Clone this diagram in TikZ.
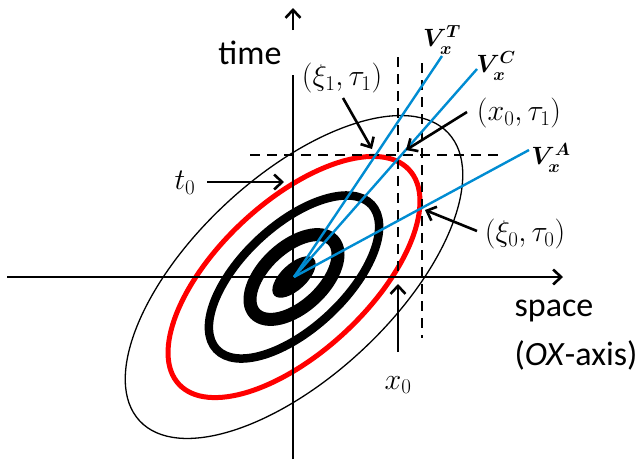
\RequirePackage{fix-cm}
\documentclass[tikz,border=0pt]{standalone}
\usepackage{amsmath}
\usepackage{fontspec}
\setmainfont{Carlito}
\usetikzlibrary{arrows.meta}
\definecolor{velocity}{RGB}{0,140,210}
\definecolor{front}{RGB}{255,0,0}
\tikzset{axis/.style={line width=2.6pt},
 guide/.style={line width=2.4pt,dash pattern=on 10pt off 7pt},
 pointer/.style={line width=2.6pt,-{Straight Barb[length=8pt,width=15pt]}},
 ray/.style={draw=velocity,line width=2.4pt},
 lab/.style={font=\fontsize{34}{40}\selectfont,inner sep=0pt},
 mlab/.style={font=\fontsize{30}{36}\selectfont,inner sep=0pt},
 vlab/.style={font=\fontsize{25}{30}\selectfont,inner sep=0pt},
 every picture/.style={line join=round}}

\begin{document}
\begin{tikzpicture}[x=1pt,y=-1pt]
\useasboundingbox (0,0) rectangle (639,459);
\coordinate (c) at (294,277);
% level sets of the packet
\draw[line width=1.3pt,rotate around={43:(c)}] (c) ellipse (211 and 100);
\draw[front,line width=5pt,rotate around={43:(c)}] (c) ellipse (157.3 and 75.2);
\draw[line width=8.5pt,rotate around={43:(c)}] (c) ellipse (106 and 51.5);
\draw[line width=13pt,rotate around={43:(c)}] (c) ellipse (53.5 and 29.5);
\fill[rotate around={43:(c)}] (c) ellipse (27 and 13);
% axes
\coordinate (xl) at (7,277);
\coordinate (xr) at (563,277);
\coordinate (tb) at (293,459);
\coordinate (tt) at (293,75);
\coordinate (th) at (293,8);
\coordinate (tl) at (293,30);
\draw[axis,-{Straight Barb[length=8pt,width=15pt]}] (xl) -- (xr);
\draw[axis] (tb) -- (tt);
\draw[axis,-{Straight Barb[length=8pt,width=15pt]}] (tl) -- (th);
% guide lines
\coordinate (ha) at (250,155);
\coordinate (hb) at (503,155);
\coordinate (va) at (398,57);
\coordinate (vb) at (398,277);
\coordinate (wa) at (422,63);
\coordinate (wb) at (422,338);
\draw[guide] (ha) -- (hb);
\draw[guide] (va) -- (vb);
\draw[guide] (wa) -- (wb);
% velocities
\coordinate (vt) at (442,56);
\coordinate (vc) at (477,69);
\coordinate (vs) at (529,150);
\draw[ray] (c) -- (vt);
\draw[ray] (c) -- (vc);
\draw[ray] (c) -- (vs);
\node[vlab] (VT) at (442,40) {$\boldsymbol{V_x^T}$};
\node[vlab] (VC) at (496,66) {$\boldsymbol{V_x^C}$};
\node[vlab] (VA) at (551,158) {$\boldsymbol{V_x^A}$};
% labels
\node[lab] (time) at (250,53) {time};
\node[lab] (space) at (554,311) {space};
\node[lab] (oxaxis) at (576,355) {(\textit{OX}-axis)};
\node[mlab] (t0) at (185,183) {$t_0$};
\node[mlab] (xi1) at (342,78) {$(\xi_1,\tau_1)$};
\node[mlab] (x0t1) at (519,113) {$(x_0,\tau_1)$};
\node[mlab] (xi0) at (525,234) {$(\xi_0,\tau_0)$};
\node[mlab] (x0) at (398,385) {$x_0$};
% pointers
\coordinate (pt0) at (284,182);
\coordinate (pxi1) at (372,149);
\coordinate (px0t1) at (406,150);
\coordinate (pxi0) at (425,210);
\coordinate (px0) at (398,284);
\draw[pointer] (207,182) -- (pt0);
\draw[pointer] (343,98) -- (pxi1);
\draw[pointer] (467,112) -- (px0t1);
\draw[pointer] (477,231) -- (pxi0);
\draw[pointer] (398,352) -- (px0);
\end{tikzpicture}
\end{document}
